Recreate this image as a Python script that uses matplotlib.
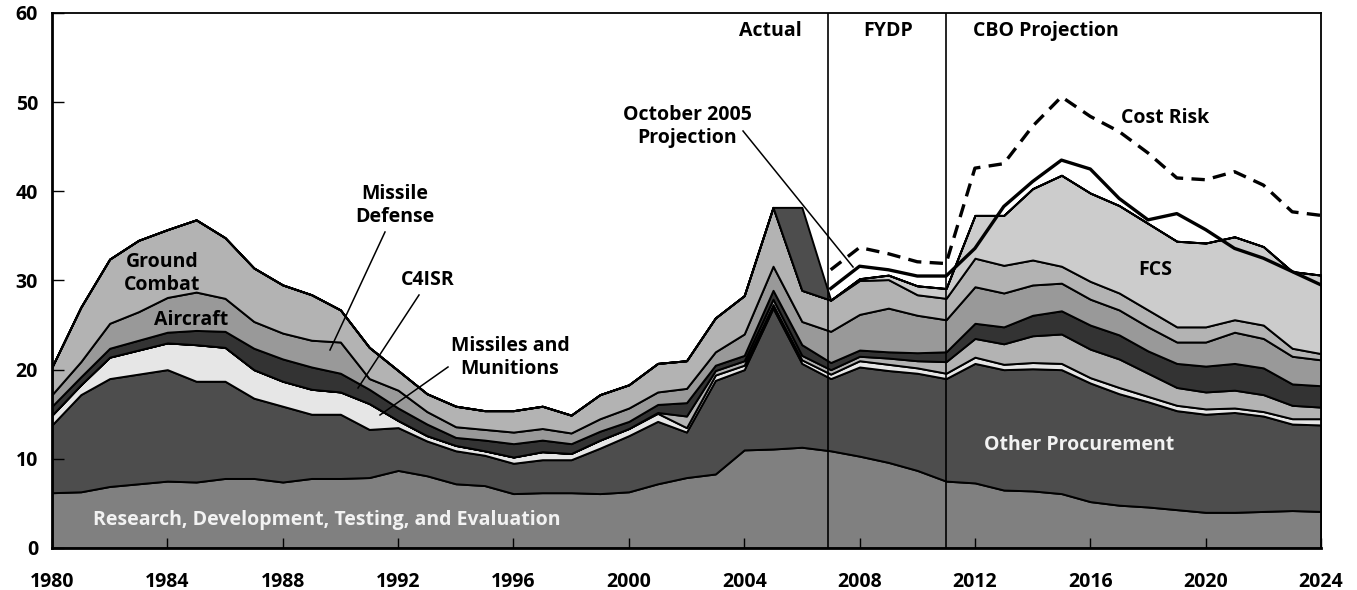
import matplotlib.pyplot as plt
import numpy as np

# Years on the x axis
years = np.arange(1980, 2025)

# Stacked categories (billions), bottom to top, 1980-2024
rdte = [6.2, 6.3, 6.9, 7.2, 7.5, 7.4, 7.8, 7.8, 7.4, 7.8,
        7.8, 7.9, 8.7, 8.1, 7.2, 7.0, 6.1, 6.2, 6.2, 6.1,
        6.3, 7.2, 7.9, 8.3, 11.0, 11.1, 11.3, 10.9, 10.3, 9.6,
        8.7, 7.5, 7.3, 6.5, 6.4, 6.1, 5.2, 4.8, 4.6, 4.3,
        4.0, 4.0, 4.1, 4.2, 4.1]
other_proc = [7.6, 10.9, 12.1, 12.3, 12.5, 11.3, 10.9, 9.0, 8.5, 7.2,
              7.2, 5.4, 4.8, 3.9, 3.7, 3.4, 3.4, 3.7, 3.7, 5.1,
              6.3, 7.0, 5.1, 10.5, 9.0, 15.8, 9.4, 8.1, 10.0, 10.3,
              10.9, 11.5, 13.4, 13.5, 13.7, 13.9, 13.3, 12.5, 11.8, 11.1,
              11.0, 11.2, 10.7, 9.7, 9.7]
missiles_munitions = [1.1, 1.1, 2.4, 2.7, 3.0, 4.1, 3.8, 3.2, 2.8, 2.8,
                      2.5, 2.9, 0.8, 0.6, 0.6, 0.5, 0.7, 0.9, 0.7, 0.9,
                      0.8, 0.9, 0.5, 0.6, 0.5, 0.4, 0.4, 0.5, 0.7, 0.7,
                      0.6, 0.6, 0.7, 0.6, 0.7, 0.7, 0.6, 0.7, 0.6, 0.6,
                      0.6, 0.5, 0.5, 0.6, 0.7]
missile_defense = [0, 0, 0, 0, 0, 0, 0, 0, 0, 0,
                   0, 0, 0, 0, 0, 0, 0, 0, 0, 0,
                   0, 0.1, 1.3, 0.5, 0.5, 0.6, 0.5, 0.5, 0.5, 0.7,
                   0.8, 1.3, 2.1, 2.3, 3.0, 3.3, 3.2, 3.2, 2.6, 2.0,
                   1.9, 2.0, 1.9, 1.5, 1.3]
c4isr = [1.0, 0.9, 1.0, 1.1, 1.2, 1.6, 1.8, 2.4, 2.5, 2.5,
         2.1, 1.6, 1.4, 1.3, 0.9, 1.2, 1.5, 1.3, 1.1, 1.0,
         0.8, 0.9, 1.5, 0.6, 0.6, 1.0, 1.2, 0.8, 0.7, 0.7,
         0.9, 1.1, 1.7, 1.9, 2.3, 2.6, 2.7, 2.7, 2.5, 2.7,
         2.9, 3.0, 3.0, 2.4, 2.4]
aircraft = [1.3, 1.7, 2.8, 3.2, 3.9, 4.3, 3.7, 3.0, 2.9, 3.0,
            3.5, 1.2, 2.0, 1.4, 1.2, 1.2, 1.3, 1.3, 1.2, 1.4,
            1.5, 1.4, 1.6, 1.5, 2.4, 2.7, 2.6, 3.5, 4.0, 4.9,
            4.2, 3.6, 4.1, 3.8, 3.4, 3.1, 2.9, 2.8, 2.7, 2.4,
            2.7, 3.5, 3.3, 3.1, 2.9]
ground_combat = [3.1, 6.1, 7.2, 8.0, 7.6, 8.1, 6.8, 6.0, 5.4, 5.1,
                 3.6, 3.5, 2.2, 2.0, 2.3, 2.1, 2.4, 2.5, 2.0, 2.7,
                 2.6, 3.2, 3.1, 3.8, 4.3, 6.6, 3.5, 3.5, 3.8, 3.2,
                 2.3, 2.4, 3.2, 3.1, 2.8, 1.9, 2.0, 1.9, 1.9, 1.7,
                 1.7, 1.4, 1.5, 0.9, 0.7]
fcs = [0, 0, 0, 0, 0, 0, 0, 0, 0, 0,
       0, 0, 0, 0, 0, 0, 0, 0, 0, 0,
       0, 0, 0, 0, 0, 0, 0, 0, 0.2, 0.5,
       1.0, 1.1, 4.8, 5.6, 8.0, 10.2, 9.9, 9.8, 9.7, 9.6,
       9.4, 9.3, 8.8, 8.6, 8.8]
supplemental = [0] * 25 + [0, 9.3, 0] + [0] * 17

# Projection lines, 2007-2024
proj_years = np.arange(2007, 2025)
oct2005_projection = [29.1, 31.6, 31.2, 30.5, 30.5, 33.6, 38.3, 41.1, 43.5,
                      42.5, 39.2, 36.8, 37.5, 35.7, 33.6, 32.5, 31.0, 29.5]
cost_risk = [31.2, 33.7, 33.0, 32.1, 31.9, 42.6, 43.1, 47.3, 50.6,
             48.4, 46.7, 44.3, 41.5, 41.3, 42.2, 40.7, 37.7, 37.3]

plt.rcParams['font.family'] = ['Open Sans', 'DejaVu Sans']
plt.rcParams['font.weight'] = 'bold'

fig = plt.figure(figsize=(13.57, 5.90), dpi=100)
ax = fig.add_axes([0.0383, 0.0712, 0.9352, 0.9068])

cores = ['#808080', '#4d4d4d', '#e6e6e6', '#b3b3b3', '#333333',
         '#999999', '#b3b3b3', '#cccccc', '#4d4d4d']
ax.stackplot(years, rdte, other_proc, missiles_munitions, missile_defense,
             c4isr, aircraft, ground_combat, fcs, supplemental,
             colors=cores, edgecolor='black', linewidth=1.4)

ax.plot(proj_years, oct2005_projection, color='black', linewidth=2.4)
ax.plot(proj_years, cost_risk, color='black', linewidth=2.4,
        linestyle=(0, (4, 2.5)))

# separadores de periodo
ax.axvline(2006.92, color='black', linewidth=1.2)
ax.axvline(2011, color='black', linewidth=1.2)

ax.set_xlim(1980, 2024)
ax.set_ylim(0, 60)
ax.set_xticks(np.arange(1980, 2025, 4))
ax.set_yticks(np.arange(0, 61, 10))
ax.tick_params(axis='x', direction='in', length=7, width=1, pad=17, labelsize=14)
ax.tick_params(axis='y', direction='in', length=8.5, width=1, pad=10, labelsize=14)
for s in ax.spines.values():
    s.set_linewidth(1.3)
ax.spines['left'].set_linewidth(2)
ax.spines['bottom'].set_linewidth(2)

def px(x, y):
    # converte coordenadas em pixels da imagem para dados
    return (1980 + (x - 52) / 28.84, (548 - y) / 8.917)

fs = 14
ax.text(*px(770, 31), 'Actual', ha='center', va='center', fontsize=fs)
ax.text(*px(888, 31), 'FYDP', ha='center', va='center', fontsize=fs)
ax.text(*px(973, 31), 'CBO Projection', ha='left', va='center', fontsize=fs)
ax.text(*px(687, 127), 'October 2005\nProjection', ha='center', va='center',
        fontsize=fs, linespacing=1.2)
ax.text(*px(1165, 118), 'Cost Risk', ha='center', va='center', fontsize=fs)
ax.text(*px(1155, 270), 'FCS', ha='center', va='center', fontsize=fs)
ax.text(*px(1079, 445), 'Other Procurement', ha='center', va='center',
        fontsize=fs, color='#f2f2f2')
ax.text(*px(93, 520), 'Research, Development, Testing, and Evaluation',
        ha='left', va='center', fontsize=fs, color='#f2f2f2')
ax.text(*px(162, 274), 'Ground\nCombat', ha='center', va='center',
        fontsize=fs, linespacing=1.2)
ax.text(*px(191, 320), 'Aircraft', ha='center', va='center', fontsize=fs)
ax.text(*px(395, 206), 'Missile\nDefense', ha='center', va='center',
        fontsize=fs, linespacing=1.2)
ax.text(*px(428, 280), 'C4ISR', ha='center', va='center', fontsize=fs)
ax.text(*px(510, 358), 'Missiles and\nMunitions', ha='center', va='center',
        fontsize=fs, linespacing=1.2)

# linhas de chamada
chamadas = [((743, 131), (853, 267)), ((385, 232), (330, 350)),
            ((419, 295), (358, 388)), ((448, 367), (380, 415))]
for a, b in chamadas:
    (x0, y0), (x1, y1) = px(*a), px(*b)
    ax.plot([x0, x1], [y0, y1], color='black', linewidth=1.1)

fig.savefig('out.png', dpi=100)
